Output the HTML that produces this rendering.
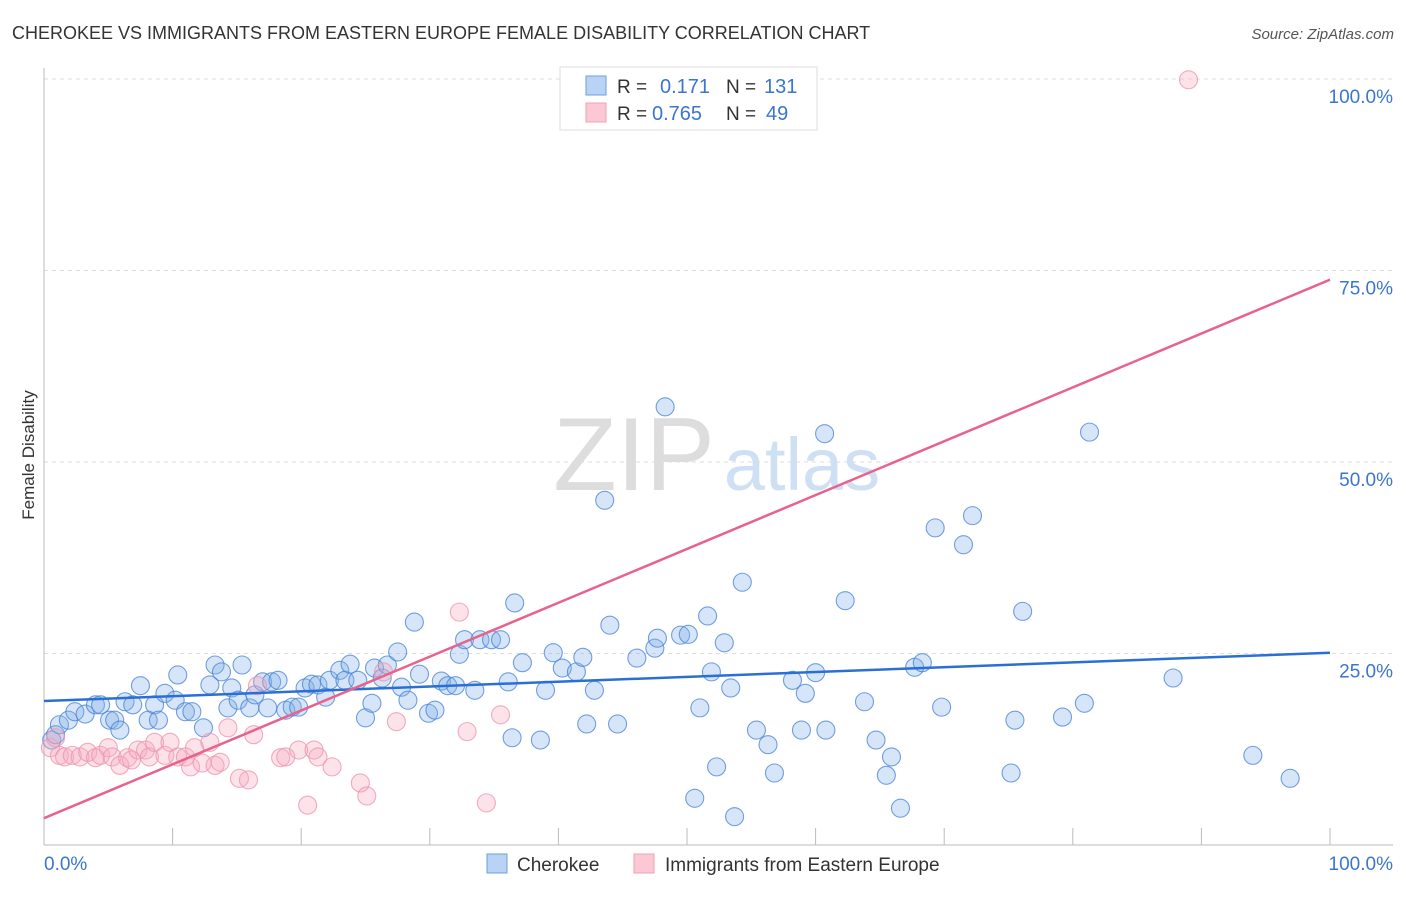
<!DOCTYPE html>
<html><head><meta charset="utf-8"><style>
body{margin:0;background:#fff;font-family:"Liberation Sans",sans-serif}
svg text{font-family:"Liberation Sans",sans-serif}
</style></head><body>
<svg id="c" width="1406" height="892" xmlns="http://www.w3.org/2000/svg">
<text x="12" y="39" font-size="18" fill="#333">CHEROKEE VS IMMIGRANTS FROM EASTERN EUROPE FEMALE DISABILITY CORRELATION CHART</text>
<text x="1394" y="39" font-size="15" fill="#555" font-style="italic" text-anchor="end">Source: ZipAtlas.com</text>
<text transform="translate(34,455) rotate(-90)" font-size="17" fill="#333" text-anchor="middle">Female Disability</text>
<g>
<text x="634" y="490" font-size="104" font-family="Liberation Serif,serif" fill="#ddd" text-anchor="middle">ZIP</text>
<text x="802" y="490" font-size="74" fill="#cfe0f4" text-anchor="middle">atlas</text>
</g>
<g id="grid"></g><g id="ticks"></g><g id="pts"></g><g id="lines"></g>
<g>
<rect x="560" y="67" width="257" height="63" fill="#fff" stroke="#ddd"/>
<rect x="586" y="76" width="20" height="19" fill="#b8d3f3" stroke="#6a9fdf"/>
<rect x="586" y="103" width="20" height="19" fill="#fbc8d6" stroke="#f0a0b8"/>
<text x="617" y="93" font-size="19" fill="#333">R =</text><text x="660" y="93" font-size="20" fill="#3a76d0">0.171</text>
<text x="726" y="93" font-size="19" fill="#333">N =</text><text x="764" y="93" font-size="20" fill="#3a76d0">131</text>
<text x="617" y="120" font-size="19" fill="#333">R =</text><text x="652" y="120" font-size="20" fill="#3a76d0">0.765</text>
<text x="726" y="120" font-size="19" fill="#333">N =</text><text x="766" y="120" font-size="20" fill="#3a76d0">49</text>
</g>
<g>
<rect x="487" y="854" width="20" height="19" fill="#b8d3f3" stroke="#6a9fdf"/>
<text x="517" y="871" font-size="19" fill="#333">Cherokee</text>
<rect x="634" y="854" width="20" height="19" fill="#fbc8d6" stroke="#f0a0b8"/>
<text x="665" y="871" font-size="19" fill="#333">Immigrants from Eastern Europe</text>
</g>
</svg>
<script>
const blueX=[0.6,0.9,1.2,1.9,2.4,3.2,4.0,4.4,5.1,5.5,5.9,6.3,6.9,7.5,8.1,8.6,8.9,9.4,10.2,10.4,11.0,11.5,12.4,12.9,13.3,13.8,14.3,14.6,15.1,15.4,16.0,16.4,17.0,17.4,17.7,18.2,18.8,19.3,19.8,20.3,20.8,21.3,21.9,22.2,23.0,23.4,23.8,24.4,25.0,25.5,25.7,26.3,26.7,27.5,27.8,28.3,28.8,29.2,29.9,30.4,30.9,31.4,32.0,32.3,32.7,33.5,33.9,34.8,35.5,36.1,36.4,36.6,37.2,38.6,39.0,39.6,40.3,41.4,41.9,42.2,42.8,43.6,44.0,44.6,46.1,47.5,47.7,48.3,49.5,50.1,50.6,51.0,51.6,51.9,52.3,52.9,53.4,53.7,54.3,55.4,56.3,56.8,58.2,58.9,59.2,60.0,60.7,60.8,62.3,63.8,64.7,65.5,65.9,66.6,67.7,68.3,69.3,69.8,71.5,72.2,75.2,75.5,76.1,79.2,80.9,81.3,87.8,94.0,96.9];
const blueY=[13.7,14.4,15.7,16.3,17.4,17.1,18.3,18.3,16.3,16.3,15.0,18.7,18.3,20.8,16.3,18.3,16.3,19.8,18.9,22.2,17.4,17.4,15.3,20.9,23.5,22.6,17.9,20.5,18.9,23.5,17.9,19.6,21.3,17.9,21.3,21.5,17.6,18.0,18.0,20.5,21.0,20.9,19.3,21.5,22.8,21.5,23.6,21.5,16.6,18.5,23.1,21.8,23.5,25.2,20.6,18.9,29.1,22.3,17.2,17.6,21.4,20.8,20.8,24.9,26.8,20.2,26.8,26.8,26.8,21.3,14.0,31.6,23.8,13.7,20.2,25.1,23.1,22.6,24.5,15.8,20.2,45.0,28.7,15.8,24.4,25.7,27.0,57.2,27.4,27.5,6.1,17.9,29.9,22.6,10.2,26.4,20.5,3.7,34.3,15.0,13.1,9.4,21.5,15.0,19.8,22.5,53.7,15.0,31.9,18.7,13.7,9.1,11.5,4.8,23.2,23.8,41.4,18.0,39.2,43.0,9.4,16.3,30.5,16.7,18.5,53.9,21.8,11.7,8.7];
const pinkX=[0.5,0.9,1.2,1.6,2.2,2.8,3.4,4.0,4.4,5.0,5.3,5.9,6.5,6.8,7.3,7.9,8.2,8.6,9.4,9.8,10.4,11.0,11.4,11.7,12.3,12.9,13.3,13.7,14.3,15.2,15.9,16.3,16.6,18.4,18.8,19.8,20.5,21.0,21.3,22.4,24.6,25.1,26.4,27.4,32.3,32.9,34.4,35.5,89.0];
const pinkY=[12.7,14.0,11.7,11.5,11.7,11.5,12.1,11.4,11.7,12.7,11.5,10.4,11.4,11.1,12.4,12.4,11.5,13.4,11.7,13.4,11.5,11.5,10.2,12.7,10.7,13.4,10.4,10.8,15.3,8.7,8.5,14.4,20.8,11.4,11.5,12.4,5.2,12.4,11.5,10.2,8.1,6.4,22.6,16.1,30.4,14.8,5.5,17.0,99.9];
const trendBlue=[18.8,25.1];
const trendPink=[3.5,73.8];
const yTicks=[25,50,75,100];
const yTickLabels=["25.0%","50.0%","75.0%","100.0%"];
const xTicks=[0,10,20,30,40,50,60,70,80,90,100];

const NS="http://www.w3.org/2000/svg";
const X0=44,X1=1330,Y0=845,Y100=79;
const sx=v=>X0+(X1-X0)*v/100, sy=v=>Y0-(Y0-Y100)*v/100;
function mk(tag,attrs,parent){const e=document.createElementNS(NS,tag);for(const k in attrs)e.setAttribute(k,attrs[k]);parent.appendChild(e);return e;}
const grid=document.getElementById('grid'),ticks=document.getElementById('ticks'),pts=document.getElementById('pts'),lines=document.getElementById('lines');
yTicks.forEach((t,i)=>{
  const g=mk('line',{x1:X0,x2:1393,y1:sy(t),y2:sy(t),stroke:'#ddd','stroke-dasharray':'4,4'},grid);
  
  
  const l=mk('text',{x:1393,y:sy(t)+24,'font-size':19,fill:'#3a76d0','text-anchor':'end'},ticks);
  l.textContent=yTickLabels[i];
  
  
});
const ax=mk('line',{x1:X0,x2:X0,y1:68,y2:Y0,stroke:'#bbb'},ticks);


const bx=mk('line',{x1:X0,x2:1393,y1:Y0,y2:Y0,stroke:'#bbb'},ticks);


xTicks.forEach(t=>{
  const k=mk('line',{x1:sx(t),x2:sx(t),y1:828,y2:Y0,stroke:'#bbb'},ticks);
  
  
});
const xl=mk('text',{x:44,y:870,'font-size':19,fill:'#3a76d0'},ticks);xl.textContent='0.0%';


const xr=mk('text',{x:1393,y:870,'font-size':19,fill:'#3a76d0','text-anchor':'end'},ticks);xr.textContent='100.0%';


blueX.forEach((x,i)=>{
  const c=mk('circle',{cx:sx(x),cy:sy(blueY[i]),r:9,fill:'rgba(130,175,232,0.33)',stroke:'rgba(70,130,215,0.75)','stroke-width':1.1},pts);
  
  
});
pinkX.forEach((x,i)=>{
  const c=mk('circle',{cx:sx(x),cy:sy(pinkY[i]),r:9,fill:'rgba(247,170,192,0.33)',stroke:'rgba(238,150,178,0.8)','stroke-width':1.1},pts);
  
  
});
const lb=mk('line',{x1:sx(0),y1:sy(trendBlue[0]),x2:sx(100),y2:sy(trendBlue[1]),stroke:'#2a6fd6','stroke-width':2.5},lines);


const lp=mk('line',{x1:sx(0),y1:sy(trendPink[0]),x2:sx(100),y2:sy(trendPink[1]),stroke:'#e8628e','stroke-width':2.5},lines);


</script>
</body></html>
